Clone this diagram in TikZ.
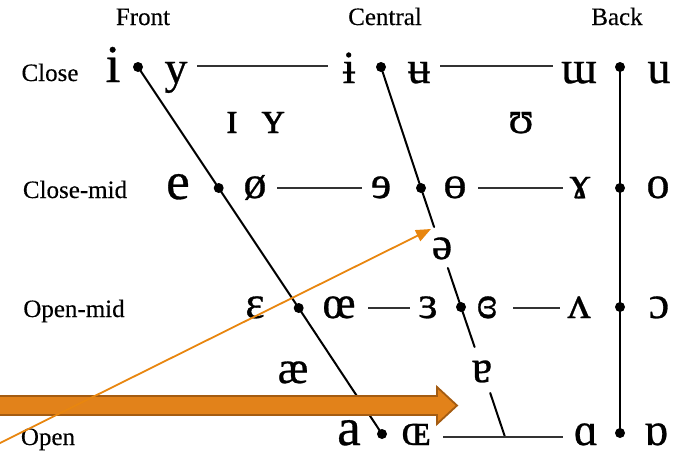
\documentclass[tikz,border=0pt]{standalone}
\usepackage{fontspec}
\setmainfont{Liberation Serif}
\newfontfamily\vowelfont[FakeBold=0.6]{Liberation Serif}
\newfontfamily\labfont[FakeBold=0.3]{Liberation Serif}
\usetikzlibrary{arrows.meta}
\definecolor{arrowfill}{HTML}{E2821A}
\definecolor{arrowedge}{HTML}{A45C12}
\definecolor{thinorange}{HTML}{E8860F}
\begin{document}
\begin{tikzpicture}[x=1pt,y=-1pt,
  vowel/.style={anchor=base,inner sep=0pt,font=\vowelfont\fontsize{46}{46}\selectfont},
  bigvowel/.style={anchor=base,inner sep=0pt,font=\vowelfont\fontsize{53}{53}\selectfont},
  lab/.style={anchor=base,inner sep=0pt,font=\labfont\fontsize{25}{25}\selectfont},
  vdot/.style={circle,fill=black,inner sep=0pt,minimum size=10pt},
  trap/.style={line width=2pt,line cap=round},
  hrule/.style={line width=1.5pt,black!80}]
\useasboundingbox (0,0) rectangle (674,455);
\clip (0,0) rectangle (674,455);

% column and row labels
\node[lab] (front)   at (143,25) {Front};
\node[lab] (central) at (385,25) {Central};
\node[lab] (back)    at (617,25) {Back};
\node[lab] (close)   at (50,81)  {Close};
\node[lab] (closemid) at (75,198) {Close-mid};
\node[lab] (openmid) at (74,317) {Open-mid};
\node[lab] (open)    at (48,445) {Open};

% dots
\node[vdot] (d11) at (138,67) {};
\node[vdot] (d12) at (381,67) {};
\node[vdot] (d13) at (620,67) {};
\node[vdot] (d21) at (218.7,188) {};
\node[vdot] (d22) at (421,188) {};
\node[vdot] (d23) at (620,188) {};
\node[vdot] (d31) at (298.7,308) {};
\node[vdot] (d32) at (461,307) {};
\node[vdot] (d33) at (620,307) {};
\node[vdot] (d41) at (382,434) {};
\node[vdot] (d43) at (620,433) {};

% vowels
\node[bigvowel] (vi)  at (113,82) {i};
\node[vowel] (vy)  at (176,83) {y};
\node[vowel] (vib) at (349,83) {ɨ};
\node[vowel] (vub) at (419,83) {ʉ};
\node[vowel] (vmu) at (579,83) {ɯ};
\node[vowel] (vu)  at (659,83) {u};

\node[vowel] (vI)  at (232,133) {ɪ};
\node[vowel] (vY)  at (273,133) {ʏ};
\node[vowel] (vU)  at (521,133) {ʊ};

\node[bigvowel] (ve) at (178,199) {e};
\node[vowel] (voe) at (255,198) {ø};
\node[vowel] (vre) at (381,198) {ɘ};
\node[vowel] (vbo) at (455,198) {ɵ};
\node[vowel] (vga) at (580,198) {ɤ};
\node[vowel] (vo)  at (658,198) {o};

\node[vowel] (vschwa) at (442,259) {ə};

\node[vowel] (veps) at (255,318) {ɛ};
\node[vowel] (voel) at (339,318) {œ};
\node[vowel] (vrep) at (428,318) {ɜ};
\node[vowel] (vcre) at (487,318) {ɞ};
\node[vowel] (vtv)  at (579,318) {ʌ};
\node[vowel] (voo)  at (659,318) {ɔ};

\node[vowel] (vae) at (293,383) {æ};
\node[vowel] (vta) at (482,382) {ɐ};

\node[bigvowel] (va) at (349,445) {a};
\node[vowel] (vOE) at (416,445) {ɶ};
\node[vowel] (vsa) at (586,445) {ɑ};
\node[vowel] (vts) at (656,445) {ɒ};

% line ends
\coordinate (h1a) at (197,66);  \coordinate (h1b) at (328,66);
\coordinate (h1c) at (440,66);  \coordinate (h1d) at (553,66);
\coordinate (h2a) at (277,188); \coordinate (h2b) at (362,188);
\coordinate (h2c) at (478,188); \coordinate (h2d) at (563,188);
\coordinate (h3a) at (368,308); \coordinate (h3b) at (410,308);
\coordinate (h3c) at (513,308); \coordinate (h3d) at (560,308);
\coordinate (h4a) at (443,437); \coordinate (h4b) at (563,437);
\coordinate (cA) at (434.1,227);
\coordinate (cB) at (447.9,268);
\coordinate (cC) at (474.6,347);
\coordinate (cD) at (490.2,393);
\coordinate (cE) at (505,437);

% trapezium lines
\draw[trap] (d11.center) -- (d21.center) -- (d31.center) -- (d41.center);
\draw[trap] (d12.center) -- (d22.center) -- (cA);
\draw[trap] (cB) -- (d32.center) -- (cC);
\draw[trap] (cD) -- (cE);
\draw[trap] (d13.center) -- (d23.center) -- (d33.center) -- (d43.center);

\draw[hrule] (h1a) -- (h1b);
\draw[hrule] (h1c) -- (h1d);
\draw[hrule] (h2a) -- (h2b);
\draw[hrule] (h2c) -- (h2d);
\draw[hrule] (h3a) -- (h3b);
\draw[hrule] (h3c) -- (h3d);
\draw[hrule] (h4a) -- (h4b);

% thick orange arrow
\fill[arrowfill, draw=arrowedge, line width=1.8pt, line join=miter]
  (-10,396) -- (437,396) -- (437,387) -- (457,405.5) -- (437,424) -- (437,415) -- (-10,415) -- cycle;

% thin orange arrow
\coordinate (thinS) at (-10,448);
\coordinate (thinE) at (431,229);
\draw[thinorange, line width=1.8pt, -{Triangle[length=15pt,width=12pt]}] (thinS) -- (thinE);
\end{tikzpicture}
\end{document}
